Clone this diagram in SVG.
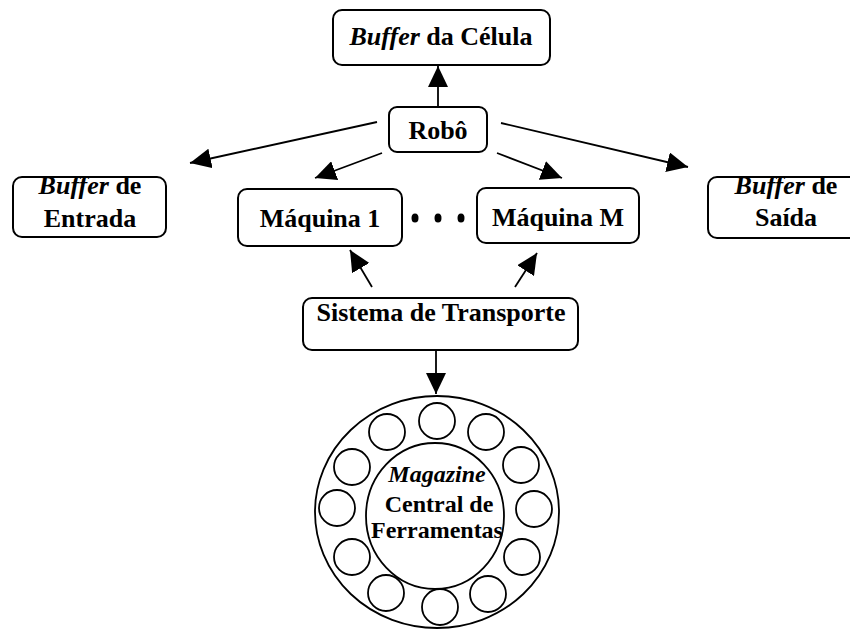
<svg xmlns="http://www.w3.org/2000/svg" width="850" height="630" viewBox="0 0 850 630">
<defs>
<marker id="ah" markerUnits="userSpaceOnUse" markerWidth="22" markerHeight="20" refX="21" refY="10" orient="auto">
<path d="M0,0 L21,10 L0,20 z" fill="#000"/>
</marker>
<style>
.box{fill:#fff;stroke:#000;stroke-width:2}
.t{font-family:"Liberation Serif","Times New Roman",serif;font-weight:bold;font-size:26px;fill:#000;text-anchor:middle}
.m{font-size:24px}
.i{font-style:italic}
.c{stroke:#000;stroke-width:1.8;fill:none;marker-end:url(#ah)}
.ring{fill:none;stroke:#000;stroke-width:1.8}
</style>
</defs>
<rect width="850" height="630" fill="#fff"/>
<g id="connectors">
<line class="c" x1="438" y1="107" x2="438" y2="66"/>
<line class="c" x1="377" y1="122" x2="190" y2="163"/>
<line class="c" x1="382" y1="153" x2="315" y2="178"/>
<line class="c" x1="497" y1="153" x2="562" y2="178"/>
<line class="c" x1="501" y1="123" x2="688" y2="167"/>
<line class="c" x1="372" y1="287" x2="350" y2="250"/>
<line class="c" x1="515" y1="287" x2="537" y2="253"/>
<line class="c" x1="436" y1="350" x2="436" y2="394"/>
</g>
<g id="buffer-celula">
<rect class="box" x="333" y="10" width="217" height="55" rx="9"/>
<text class="t" x="441" y="45"><tspan class="i">Buffer</tspan> da Célula</text>
</g>
<g id="robo">
<rect class="box" x="389" y="107" width="98" height="45" rx="8"/>
<text class="t" x="438" y="139">Robô</text>
</g>
<g id="buffer-entrada">
<rect class="box" x="13" y="177" width="153" height="60" rx="9"/>
<text class="t" x="90" y="194"><tspan class="i">Buffer</tspan> de</text>
<text class="t" x="90" y="227">Entrada</text>
</g>
<g id="maquina-1">
<rect class="box" x="238" y="189" width="164" height="57" rx="9"/>
<text class="t" x="320" y="227">Máquina 1</text>
</g>
<g id="dots">
<ellipse cx="415" cy="218" rx="3.5" ry="4.5"/>
<ellipse cx="438" cy="218" rx="3.5" ry="4.5"/>
<ellipse cx="461" cy="218" rx="3.5" ry="4.5"/>
</g>
<g id="maquina-m">
<rect class="box" x="477" y="188" width="162" height="55" rx="9"/>
<text class="t" x="558" y="226">Máquina M</text>
</g>
<g id="buffer-saida">
<rect class="box" x="708" y="177" width="150" height="61" rx="9"/>
<text class="t" x="786" y="194"><tspan class="i">Buffer</tspan> de</text>
<text class="t" x="786" y="226">Saída</text>
</g>
<g id="sistema-transporte">
<rect class="box" x="303" y="298" width="275" height="52" rx="9"/>
<text class="t" x="441" y="321">Sistema de Transporte</text>
</g>
<g id="magazine">
<ellipse class="ring" cx="437" cy="512" rx="122" ry="116"/>
<ellipse class="ring" cx="435" cy="516" rx="69" ry="73"/>
<circle class="ring" cx="437" cy="421" r="18"/>
<circle class="ring" cx="486" cy="432" r="18"/>
<circle class="ring" cx="521" cy="465" r="18"/>
<circle class="ring" cx="534" cy="509" r="18"/>
<circle class="ring" cx="522" cy="557" r="18"/>
<circle class="ring" cx="488" cy="594" r="18"/>
<circle class="ring" cx="440" cy="607" r="18"/>
<circle class="ring" cx="386" cy="593" r="18"/>
<circle class="ring" cx="352" cy="557" r="18"/>
<circle class="ring" cx="337" cy="508" r="18"/>
<circle class="ring" cx="352" cy="467" r="18"/>
<circle class="ring" cx="387" cy="432" r="18"/>
<text class="t m i" x="437" y="482">Magazine</text>
<text class="t m" x="439" y="512">Central de</text>
<text class="t m" x="437" y="538">Ferramentas</text>
</g>
</svg>
